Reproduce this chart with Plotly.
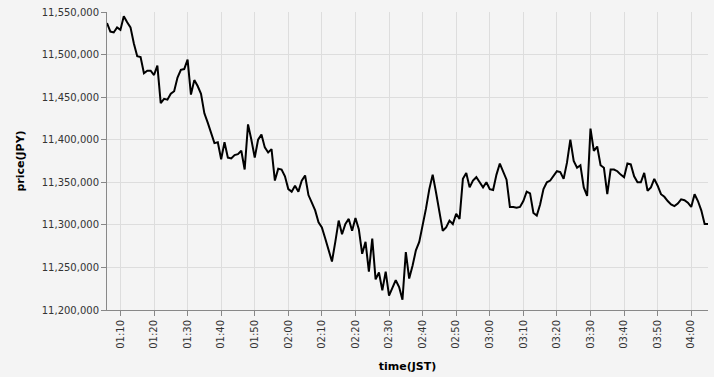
import pandas as pd
import plotly.graph_objects as go

start_time = "2021-01-01 01:06"
prices = [
    11537000, 11527000, 11526000, 11532000, 11529000, 11545000, 11538000, 11532000, 11513000, 11498000,
    11497000, 11478000, 11481000, 11481000, 11476000, 11487000, 11443000, 11448000, 11447000, 11454000,
    11457000, 11473000, 11482000, 11483000, 11494000, 11453000, 11470000, 11463000, 11454000, 11431000,
    11420000, 11408000, 11396000, 11397000, 11377000, 11397000, 11379000, 11378000, 11382000, 11383000,
    11387000, 11365000, 11418000, 11400000, 11379000, 11400000, 11406000, 11391000, 11385000, 11389000,
    11352000, 11366000, 11365000, 11357000, 11342000, 11339000, 11346000, 11339000, 11352000, 11358000,
    11335000, 11326000, 11317000, 11303000, 11297000, 11284000, 11270000, 11257000, 11280000, 11305000,
    11289000, 11301000, 11307000, 11293000, 11308000, 11295000, 11266000, 11280000, 11245000, 11284000,
    11236000, 11244000, 11223000, 11245000, 11217000, 11225000, 11235000, 11227000, 11212000, 11268000,
    11237000, 11252000, 11270000, 11280000, 11299000, 11319000, 11342000, 11359000, 11338000, 11315000,
    11293000, 11297000, 11305000, 11301000, 11313000, 11307000, 11354000, 11361000, 11344000, 11352000,
    11356000, 11350000, 11344000, 11350000, 11342000, 11341000, 11359000, 11372000, 11362000, 11353000,
    11321000, 11321000, 11320000, 11321000, 11328000, 11339000, 11337000, 11314000, 11311000, 11324000,
    11342000, 11350000, 11352000, 11358000, 11363000, 11362000, 11354000, 11373000, 11400000, 11375000,
    11367000, 11370000, 11344000, 11334000, 11413000, 11387000, 11392000, 11370000, 11367000, 11336000,
    11365000, 11365000, 11363000, 11359000, 11356000, 11372000, 11371000, 11357000, 11350000, 11350000,
    11361000, 11340000, 11344000, 11354000, 11346000, 11336000, 11333000, 11328000, 11324000, 11322000,
    11325000, 11330000, 11329000, 11326000, 11321000, 11336000, 11328000, 11317000, 11301000, 11301000,
]
times = pd.date_range(start=start_time, periods=len(prices), freq="1min")

y_min, y_max, y_step = 11200000, 11550000, 50000

fig = go.Figure(
    go.Scatter(
        x=times, y=prices, mode="lines",
        line=dict(color="#000000", width=2),
        hoverinfo="skip",
    )
)

bg = "#f4f4f4"
tickfont = dict(family="DejaVu Sans", size=10, color="#333333")
titlefont = dict(family="DejaVu Sans", size=11, color="#000000", weight="bold")

fig.update_layout(
    width=714, height=377,
    margin=dict(l=107, r=6, t=10, b=67),
    paper_bgcolor=bg, plot_bgcolor=bg,
    showlegend=False,
)
fig.update_xaxes(
    range=[times[0], times[-1]],
    tickformat="%H:%M", dtick=600000, tick0="2021-01-01 01:10",
    tickangle=-90, tickfont=tickfont,
    ticks="outside", ticklen=5, tickcolor="#888888",
    showline=True, linecolor="#888888", linewidth=1,
    showgrid=True, gridcolor="#dddddd", gridwidth=1,
    zeroline=False,
    title=dict(text="time(JST)", font=titlefont, standoff=14),
)
fig.update_yaxes(
    range=[y_min, y_max], dtick=y_step, tickformat=",",
    tickfont=tickfont,
    ticks="outside", ticklen=5, tickcolor="#888888",
    showline=True, linecolor="#888888", linewidth=1,
    showgrid=True, gridcolor="#dddddd", gridwidth=1,
    zeroline=False,
    title=dict(text="price(JPY)", font=titlefont, standoff=14),
)

fig.write_html("out.html")
